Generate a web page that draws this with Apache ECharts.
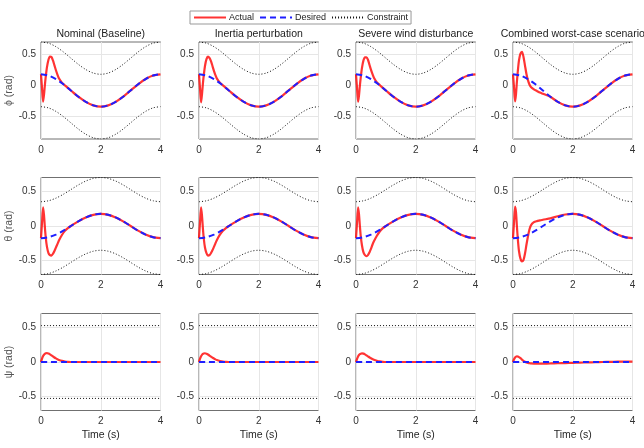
<!DOCTYPE html>
<html>
<head>
<meta charset="utf-8">
<script src="https://cdn.jsdelivr.net/npm/echarts@6/dist/echarts.min.js"></script>
<style>html,body{margin:0;padding:0;background:#fff}#c{width:644px;height:448px}</style>
</head>
<body>
<div id="c"></div>
<script>
// ---------------- data ----------------
const TITLES = ['Nominal (Baseline)', 'Inertia perturbation', 'Severe wind disturbance', 'Combined worst-case scenario'];
const Y_NAMES = ['ϕ (rad)', 'θ (rad)', 'ψ (rad)'];
const X_TICKS = [0, 2, 4];
const Y_TICKS = [-0.5, 0, 0.5];

const T_DES = [0,0.25,0.5,0.75,1,1.25,1.5,1.75,2,2.25,2.5,2.75,3,3.25,3.5,3.75,4];
const PHI_DES = [0.175,0.155,0.098,0.013,-0.087,-0.188,-0.272,-0.329,-0.349,-0.329,-0.272,-0.188,-0.087,0.013,0.098,0.155,0.175];
const PHI_UP  = [0.698,0.679,0.622,0.537,0.436,0.336,0.252,0.195,0.175,0.195,0.252,0.336,0.436,0.537,0.622,0.679,0.698];
const PHI_LO  = [-0.349,-0.369,-0.426,-0.511,-0.611,-0.712,-0.796,-0.853,-0.873,-0.853,-0.796,-0.712,-0.611,-0.511,-0.426,-0.369,-0.349];
const THETA_DES = [-0.175,-0.161,-0.123,-0.067,0,0.067,0.123,0.161,0.175,0.161,0.123,0.067,0,-0.067,-0.123,-0.161,-0.175];
const THETA_UP  = [0.349,0.363,0.401,0.457,0.524,0.591,0.647,0.685,0.698,0.685,0.647,0.591,0.524,0.457,0.401,0.363,0.349];
const THETA_LO  = [-0.698,-0.685,-0.647,-0.591,-0.524,-0.457,-0.401,-0.363,-0.349,-0.363,-0.401,-0.457,-0.524,-0.591,-0.647,-0.685,-0.698];
const PSI_DES = [0,0,0,0,0,0,0,0,0,0,0,0,0,0,0,0,0];
const PSI_UP  = [0.524,0.524,0.524,0.524,0.524,0.524,0.524,0.524,0.524,0.524,0.524,0.524,0.524,0.524,0.524,0.524,0.524];
const PSI_LO  = [-0.524,-0.524,-0.524,-0.524,-0.524,-0.524,-0.524,-0.524,-0.524,-0.524,-0.524,-0.524,-0.524,-0.524,-0.524,-0.524,-0.524];

const T_ACT = [0,0.035,0.07,0.1,0.13,0.16,0.2,0.25,0.3,0.35,0.4,0.45,0.5,0.55,0.6,0.7,0.8,0.9,1.0,1.25,1.5,1.75,2,2.25,2.5,2.75,3,3.25,3.5,3.75,4];

const PHI_NOM  = [0.175,-0.05,-0.27,-0.16,0.0,0.14,0.29,0.41,0.46,0.455,0.40,0.32,0.24,0.17,0.11,0.04,-0.004,-0.046,-0.087,-0.188,-0.272,-0.329,-0.349,-0.329,-0.272,-0.188,-0.087,0.013,0.098,0.155,0.175];
const PHI_INE  = [0.175,-0.06,-0.28,-0.15,0.02,0.16,0.31,0.42,0.46,0.44,0.39,0.31,0.23,0.16,0.105,0.04,-0.004,-0.046,-0.087,-0.188,-0.272,-0.329,-0.349,-0.329,-0.272,-0.188,-0.087,0.013,0.098,0.155,0.175];
const PHI_WIND = [0.175,-0.05,-0.27,-0.17,-0.01,0.13,0.28,0.40,0.45,0.45,0.41,0.33,0.25,0.18,0.12,0.045,-0.002,-0.046,-0.087,-0.188,-0.272,-0.329,-0.349,-0.329,-0.272,-0.188,-0.087,0.013,0.098,0.155,0.175];
const PHI_COMB = [0.175,-0.04,-0.265,-0.15,0.05,0.22,0.40,0.51,0.54,0.46,0.32,0.18,0.08,0.01,-0.03,-0.07,-0.095,-0.12,-0.14,-0.19,-0.272,-0.329,-0.349,-0.329,-0.272,-0.188,-0.087,0.013,0.098,0.155,0.175];

const THETA_NOM  = [-0.175,0.05,0.27,0.16,-0.02,-0.17,-0.30,-0.39,-0.42,-0.425,-0.40,-0.36,-0.31,-0.26,-0.21,-0.13,-0.07,-0.03,0,0.067,0.123,0.161,0.175,0.161,0.123,0.067,0,-0.067,-0.123,-0.161,-0.175];
const THETA_INE  = [-0.175,0.06,0.27,0.15,-0.03,-0.18,-0.31,-0.39,-0.425,-0.42,-0.39,-0.35,-0.30,-0.25,-0.20,-0.125,-0.068,-0.029,0,0.067,0.123,0.161,0.175,0.161,0.123,0.067,0,-0.067,-0.123,-0.161,-0.175];
const THETA_WIND = [-0.175,0.05,0.27,0.17,0.0,-0.15,-0.28,-0.38,-0.42,-0.435,-0.42,-0.38,-0.33,-0.27,-0.22,-0.14,-0.075,-0.03,0,0.067,0.123,0.161,0.175,0.161,0.123,0.067,0,-0.067,-0.123,-0.161,-0.175];
const THETA_COMB = [-0.175,0.06,0.28,0.20,0.0,-0.18,-0.36,-0.47,-0.51,-0.49,-0.40,-0.27,-0.15,-0.05,0.01,0.055,0.07,0.08,0.09,0.11,0.14,0.165,0.175,0.161,0.123,0.067,0,-0.067,-0.123,-0.161,-0.175];

const PSI_NOM  = [0,0.05,0.085,0.105,0.118,0.125,0.128,0.122,0.11,0.095,0.08,0.065,0.052,0.04,0.03,0.016,0.007,0.002,0,0,0,0,0,0,0,0,0,0,0,0,0];
const PSI_INE  = [0,0.05,0.083,0.103,0.116,0.123,0.126,0.12,0.108,0.093,0.078,0.063,0.05,0.038,0.028,0.015,0.006,0.002,0,0,0,0,0,0,0,0,0,0,0,0,0];
const PSI_WIND = [0,0.045,0.08,0.1,0.113,0.12,0.124,0.12,0.11,0.096,0.082,0.067,0.054,0.042,0.032,0.018,0.008,0.003,0,0,0,0,0,0,0,0,0,0,0,0,0];
const PSI_COMB = [0,0.04,0.065,0.077,0.08,0.078,0.07,0.055,0.035,0.017,0.003,-0.007,-0.013,-0.017,-0.02,-0.023,-0.024,-0.024,-0.023,-0.021,-0.018,-0.015,-0.012,-0.009,-0.006,-0.003,0,0.002,0.004,0.005,0.006];

// ---------------- layout ----------------
const COL_LEFT = [41, 199, 356, 513];
const COL_W = 119.5;
const ROW_TOP = [42, 177.5, 313.5];
const ROW_H = 97;
const FONT = 'Liberation Sans, Arial, Helvetica, sans-serif';

const ROWS = [
  {min: -0.873, max: 0.698, des: PHI_DES, up: PHI_UP, lo: PHI_LO, act: [PHI_NOM, PHI_INE, PHI_WIND, PHI_COMB]},
  {min: -0.698, max: 0.698, des: THETA_DES, up: THETA_UP, lo: THETA_LO, act: [THETA_NOM, THETA_INE, THETA_WIND, THETA_COMB]},
  {min: -0.698, max: 0.698, des: PSI_DES, up: PSI_UP, lo: PSI_LO, act: [PSI_NOM, PSI_INE, PSI_WIND, PSI_COMB]}
];

const zip = (xs, ys) => xs.map((x, i) => [x, ys[i]]);

const grid = [], xAxis = [], yAxis = [], series = [], graphic = [];
let k = 0;
ROWS.forEach((row, r) => {
  for (let c = 0; c < 4; c++) {
    grid.push({left: COL_LEFT[c], top: ROW_TOP[r], width: COL_W, height: ROW_H,
      show: true, borderColor: '#707070', borderWidth: 1, backgroundColor: 'rgba(0,0,0,0)'});
    xAxis.push({type: 'value', gridIndex: k, min: X_TICKS[0], max: X_TICKS[X_TICKS.length - 1], interval: X_TICKS[1] - X_TICKS[0],
      axisLine: {show: false, onZero: false}, axisTick: {show: false},
      axisLabel: {fontSize: 10, color: '#333', margin: 6, fontFamily: FONT},
      splitLine: {show: true, lineStyle: {color: '#e6e6e6', width: 1}},
      name: r === 2 ? 'Time (s)' : '', nameLocation: 'middle', nameGap: 19,
      nameTextStyle: {fontSize: 10.5, color: '#262626', fontFamily: FONT}});
    yAxis.push({type: 'value', gridIndex: k, min: row.min, max: row.max,
      axisLine: {show: false}, axisTick: {show: false}, splitLine: {show: false},
      axisLabel: {customValues: Y_TICKS, fontSize: 10, color: '#333', margin: 5, fontFamily: FONT,
        formatter: v => String(Math.round(v * 10) / 10)},
      name: c === 0 ? Y_NAMES[r] : '', nameLocation: 'middle', nameGap: 21, nameRotate: 90,
      nameTextStyle: {fontSize: 10.5, color: '#555', fontFamily: FONT}});
    // horizontal grid lines at the y ticks (drawn beneath the data)
    series.push({type: 'line', name: '_grid', xAxisIndex: k, yAxisIndex: k, data: [], z: 0, silent: true,
      symbol: 'none',
      markLine: {z: 0, silent: true, symbol: ['none', 'none'], label: {show: false}, animation: false,
        lineStyle: {color: '#e6e6e6', width: 1, type: 'solid'},
        data: Y_TICKS.map(v => ({yAxis: v}))}});
    series.push({type: 'line', name: 'Constraint', xAxisIndex: k, yAxisIndex: k, z: 2, symbol: 'none', smooth: 0.3,
      data: zip(T_DES, row.up), lineStyle: {color: '#111', width: 1, type: [1, 2]}, itemStyle: {color: '#111'}});
    series.push({type: 'line', name: 'Constraint', xAxisIndex: k, yAxisIndex: k, z: 2, symbol: 'none', smooth: 0.3,
      data: zip(T_DES, row.lo), lineStyle: {color: '#111', width: 1, type: [1, 2]}, itemStyle: {color: '#111'}});
    series.push({type: 'line', name: 'Actual', xAxisIndex: k, yAxisIndex: k, z: 3, symbol: 'none', smooth: 0.25,
      data: zip(T_ACT, row.act[c]), lineStyle: {color: '#ff0000', width: 2.2, opacity: 0.8}, itemStyle: {color: '#ff0000'}});
    series.push({type: 'line', name: 'Desired', xAxisIndex: k, yAxisIndex: k, z: 4, symbol: 'none', smooth: 0.3,
      data: zip(T_DES, row.des), lineStyle: {color: '#1f1fff', width: 2, type: [6, 4]}, itemStyle: {color: '#1f1fff'}});
    if (r === 0) {
      graphic.push({type: 'text', x: COL_LEFT[c] + COL_W / 2, y: 34,
        style: {text: TITLES[c], textAlign: 'center', textVerticalAlign: 'middle', fontSize: 10.5, fontFamily: FONT, fill: '#222'}});
    }
    k++;
  }
});

const chart = echarts.init(document.getElementById('c'), null, {renderer: 'canvas'});
chart.setOption({
  animation: false,
  backgroundColor: '#fff',
  legend: {data: ['Actual', 'Desired', 'Constraint'], left: 190, top: 11, itemWidth: 32, itemHeight: 8, itemGap: 5,
    padding: [2, 3], borderColor: '#999', borderWidth: 1,
    itemStyle: {opacity: 0},
    textStyle: {fontSize: 9, color: '#222', fontFamily: FONT, padding: [0, 0, 0, -2]}},
  grid, xAxis, yAxis, series, graphic
});
</script>
</body>
</html>
